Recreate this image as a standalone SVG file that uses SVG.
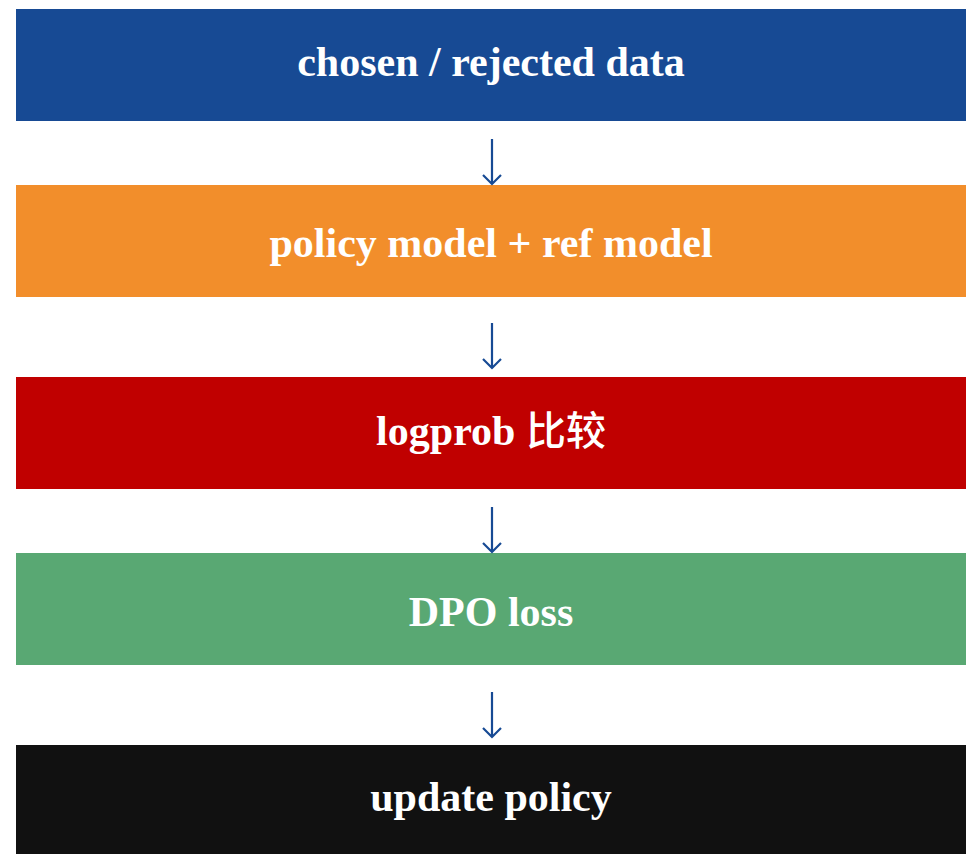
<svg xmlns="http://www.w3.org/2000/svg" width="966" height="854" viewBox="0 0 966 854">
<style>
.box{stroke:none}
.lbl{font-family:"Liberation Serif","Noto Sans CJK SC",serif;font-weight:bold;font-size:42px;fill:#ffffff;text-anchor:middle}
.cjk{font-family:"Noto Sans CJK SC",sans-serif;font-weight:500;font-size:40px}
.arr{stroke:#174A94;stroke-width:2.2;fill:none}
</style>
<rect width="966" height="854" fill="#ffffff"/>
<g id="n1"><rect class="box" x="16" y="9" width="950" height="112" fill="#174A94"/><text class="lbl" x="491" y="76">chosen / rejected data</text></g>
<g id="n2"><rect class="box" x="16" y="185" width="950" height="112" fill="#F28E2B"/><text class="lbl" x="491" y="257">policy model + ref model</text></g>
<g id="n3"><rect class="box" x="16" y="377" width="950" height="112" fill="#C00000"/><text class="lbl" x="491" y="445">logprob <tspan class="cjk">比较</tspan></text></g>
<g id="n4"><rect class="box" x="16" y="553" width="950" height="112" fill="#59A873"/><text class="lbl" x="491" y="626">DPO loss</text></g>
<g id="n5"><rect class="box" x="16" y="745" width="950" height="109" fill="#111111"/><text class="lbl" x="491" y="811">update policy</text></g>
<g id="connectors">
<path class="arr" d="M492,139 V184 M483,175 L492,184 L501,175"/>
<path class="arr" d="M492,323 V368 M483,359 L492,368 L501,359"/>
<path class="arr" d="M492,507 V552 M483,543 L492,552 L501,543"/>
<path class="arr" d="M492,692 V737 M483,728 L492,737 L501,728"/>
</g>
</svg>
